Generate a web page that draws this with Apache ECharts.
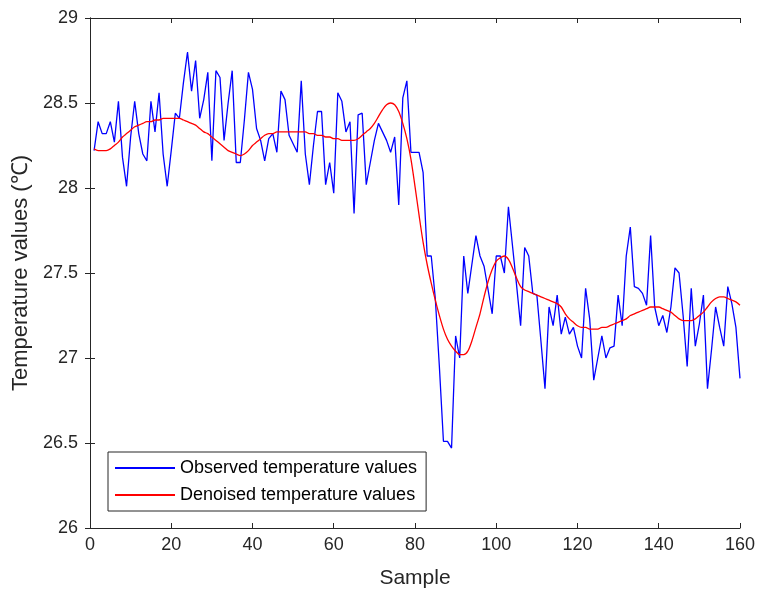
<!DOCTYPE html>
<html>
<head>
<meta charset="utf-8">
<script src="https://cdn.jsdelivr.net/npm/echarts@6/dist/echarts.min.js"></script>
<style>
  html, body { margin: 0; padding: 0; background: #ffffff; }
  #chart { width: 758px; height: 594px; }
</style>
</head>
<body>
<div id="chart"></div>
<script>
// Temperature measurements, one value per sample (samples 1..160)
const observed = [
  28.22, 28.39, 28.32, 28.32, 28.39, 28.27, 28.51, 28.18, 28.01, 28.30,
  28.51, 28.32, 28.20, 28.16, 28.51, 28.33, 28.56, 28.20, 28.01, 28.22,
  28.44, 28.41, 28.62, 28.80, 28.57, 28.75, 28.41, 28.52, 28.68, 28.16,
  28.69, 28.65, 28.28, 28.50, 28.69, 28.15, 28.15, 28.40, 28.68, 28.58,
  28.35, 28.28, 28.16, 28.29, 28.32, 28.21, 28.57, 28.52, 28.31, 28.26,
  28.21, 28.63, 28.20, 28.02, 28.25, 28.45, 28.45, 28.02, 28.15, 27.97,
  28.56, 28.51, 28.33, 28.39, 27.85, 28.43, 28.44, 28.02, 28.15, 28.28,
  28.38, 28.33, 28.28, 28.21, 28.30, 27.90, 28.53, 28.63, 28.21, 28.21,
  28.21, 28.09, 27.60, 27.60, 27.35, 26.95, 26.51, 26.51, 26.47, 27.13,
  27.00, 27.60, 27.38, 27.55, 27.72, 27.60, 27.54, 27.40, 27.26, 27.60,
  27.60, 27.50, 27.89, 27.66, 27.43, 27.19, 27.65, 27.60, 27.38, 27.37,
  27.10, 26.82, 27.30, 27.19, 27.37, 27.14, 27.24, 27.14, 27.18, 27.07,
  27.00, 27.41, 27.23, 26.87, 27.00, 27.13, 27.00, 27.06, 27.07, 27.37,
  27.19, 27.60, 27.77, 27.42, 27.41, 27.38, 27.31, 27.72, 27.30, 27.19,
  27.25, 27.15, 27.30, 27.53, 27.50, 27.25, 26.95, 27.41, 27.07, 27.20,
  27.37, 26.82, 27.05, 27.30, 27.18, 27.07, 27.42, 27.32, 27.18, 26.88
];

// Smoothed (denoised) temperature, same samples
const denoised = [
  28.23, 28.22, 28.22, 28.22, 28.23, 28.25, 28.27, 28.30, 28.32, 28.34,
  28.36, 28.37, 28.38, 28.39, 28.39, 28.40, 28.40, 28.41, 28.41, 28.41,
  28.41, 28.41, 28.40, 28.39, 28.38, 28.37, 28.35, 28.33, 28.32, 28.30,
  28.28, 28.26, 28.24, 28.22, 28.21, 28.20, 28.19, 28.20, 28.22, 28.25,
  28.27, 28.29, 28.31, 28.32, 28.32, 28.33, 28.33, 28.33, 28.33, 28.33,
  28.33, 28.33, 28.33, 28.32, 28.32, 28.31, 28.31, 28.30, 28.30, 28.29,
  28.29, 28.28, 28.28, 28.28, 28.28, 28.29, 28.31, 28.33, 28.35, 28.38,
  28.42, 28.46, 28.49, 28.50, 28.49, 28.45, 28.38, 28.29, 28.17, 28.01,
  27.84, 27.68, 27.55, 27.44, 27.34, 27.25, 27.17, 27.11, 27.07, 27.04,
  27.02, 27.02, 27.04, 27.10, 27.18, 27.26, 27.36, 27.45, 27.52, 27.57,
  27.59, 27.60, 27.58, 27.53, 27.47, 27.42, 27.40, 27.39, 27.38, 27.37,
  27.36, 27.35, 27.34, 27.33, 27.32, 27.30, 27.26, 27.23, 27.21, 27.19,
  27.18, 27.18, 27.17, 27.17, 27.17, 27.18, 27.18, 27.19, 27.20, 27.21,
  27.22, 27.23, 27.25, 27.26, 27.27, 27.28, 27.29, 27.30, 27.30, 27.30,
  27.29, 27.28, 27.27, 27.25, 27.23, 27.22, 27.22, 27.22, 27.23, 27.25,
  27.27, 27.30, 27.33, 27.35, 27.36, 27.36, 27.35, 27.34, 27.33, 27.31
];

const seriesNames = ['Observed temperature values', 'Denoised temperature values'];
const xTitle = 'Sample';
const yTitle = 'Temperature values (\u2103)';

const axisColor = '#262626';
const fontFamily = '"Liberation Sans", Arial, Helvetica, sans-serif';

const pairs = arr => arr.map((v, i) => [i + 1, v]);

const chart = echarts.init(document.getElementById('chart'), null, { renderer: 'canvas' });

// Mirror axes on top/right: frame line plus inward ticks, no labels
const mirrorAxis = {
  axisLine: { show: true, lineStyle: { color: axisColor, width: 1 } },
  axisTick: { show: true, inside: true, length: 5, lineStyle: { color: axisColor } },
  axisLabel: { show: false },
  splitLine: { show: false }
};

chart.setOption({
  animation: false,
  backgroundColor: '#ffffff',
  grid: { left: 90, right: 17, top: 18, bottom: 63, containLabel: false },
  legend: {
    orient: 'vertical',
    left: 108,
    top: 452,
    padding: [6, 9, 6, 7],
    itemGap: 7,
    itemWidth: 60,
    itemHeight: 2,
    icon: 'rect',
    backgroundColor: '#ffffff',
    borderColor: axisColor,
    borderWidth: 1,
    borderRadius: 0,
    textStyle: { color: '#000000', fontSize: 18, lineHeight: 20, fontFamily: fontFamily },
    data: seriesNames
  },
  xAxis: [
    {
      type: 'value', min: 0, max: 160, interval: 20, position: 'bottom',
      name: xTitle, nameLocation: 'middle', nameGap: 40,
      nameTextStyle: { color: axisColor, fontSize: 21, fontFamily: fontFamily },
      axisLine: { show: true, lineStyle: { color: axisColor, width: 1 } },
      axisTick: { show: true, inside: true, length: 5, lineStyle: { color: axisColor } },
      axisLabel: { color: axisColor, fontSize: 18, fontFamily: fontFamily, margin: 8 },
      splitLine: { show: false }
    },
    Object.assign({ type: 'value', min: 0, max: 160, interval: 20, position: 'top' }, mirrorAxis)
  ],
  yAxis: [
    {
      type: 'value', min: 26, max: 29, interval: 0.5, position: 'left',
      name: yTitle, nameLocation: 'middle', nameGap: 53,
      nameTextStyle: { color: axisColor, fontSize: 22, fontFamily: fontFamily },
      axisLine: { show: true, lineStyle: { color: axisColor, width: 1 } },
      axisTick: { show: true, inside: true, length: 5, lineStyle: { color: axisColor } },
      axisLabel: { color: axisColor, fontSize: 18, fontFamily: fontFamily, margin: 12 },
      splitLine: { show: false }
    },
    Object.assign({ type: 'value', min: 26, max: 29, interval: 0.5, position: 'right' }, mirrorAxis)
  ],
  series: [
    {
      name: seriesNames[0], type: 'line', data: pairs(observed),
      showSymbol: false, symbol: 'none',
      lineStyle: { color: '#0000ff', width: 1.3 },
      itemStyle: { color: '#0000ff' },
      z: 2
    },
    {
      name: seriesNames[1], type: 'line', data: pairs(denoised),
      showSymbol: false, symbol: 'none', smooth: 0.3,
      lineStyle: { color: '#ff0000', width: 1.3 },
      itemStyle: { color: '#ff0000' },
      z: 3
    }
  ]
});
</script>
</body>
</html>
